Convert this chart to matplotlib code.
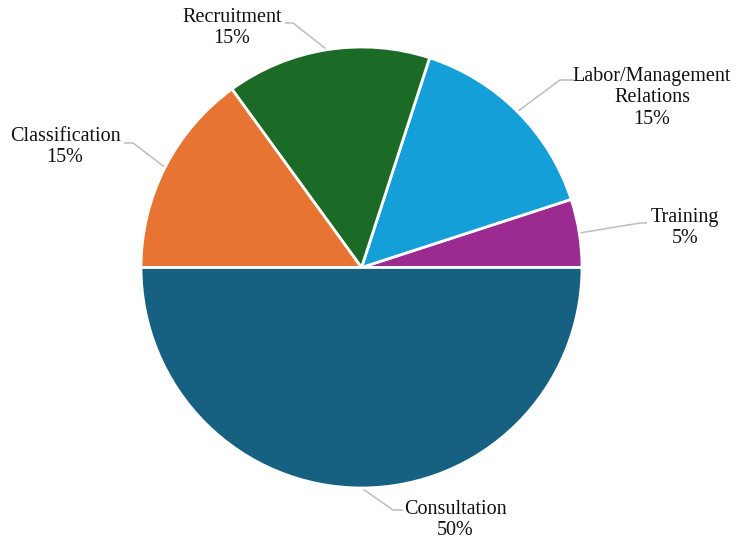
import numpy as np
import matplotlib
matplotlib.use("Agg")
import matplotlib.pyplot as plt

# Share of work by function
categories = ["Training", "Labor/Management\nRelations", "Recruitment", "Classification", "Consultation"]
shares = [5, 15, 15, 15, 50]
colors = ["#9C2B91", "#149FD9", "#1B6A26", "#E87433", "#166082"]

W, H = 736, 544
fig = plt.figure(figsize=(W / 100, H / 100), dpi=100)
ax = fig.add_axes([0, 0, 1, 1])

cx, cy, r = 361.5, H - 267.5, 220.5
wedges, _ = ax.pie(shares, colors=colors, startangle=0, counterclock=True,
                   center=(cx, cy), radius=r, frame=True,
                   wedgeprops=dict(edgecolor="white", linewidth=2))
ax.set_xlim(0, W)
ax.set_ylim(0, H)
ax.set_aspect("equal")
ax.axis("off")

# label layout in pixels from the top-left: elbow point, end of the
# horizontal run, and centre of the text block
layout = [
    ((640, 223), 647, (685, 228)),
    ((560, 80), 574, (652, 98)),
    ((293, 23), 285, (232, 28)),
    ((133, 143), 124, (65, 147)),
    ((393, 510), 403, (455, 520)),
]

font = dict(family="Liberation Serif", size=14.5, color="#111111")
for w, pct, name, ((bx, by), endx, (tx, ty)) in zip(wedges, shares, categories, layout):
    mid = np.deg2rad((w.theta1 + w.theta2) / 2)
    ex, ey = cx + r * np.cos(mid), cy + r * np.sin(mid)
    ax.plot([ex, bx, endx], [ey, H - by, H - by], color="#BDBDBD", lw=1.1,
            solid_capstyle="butt", zorder=0)
    ax.text(tx, H - ty, f"{name}\n{pct}%",
            ha="center", va="center", linespacing=1.17, **font)

fig.savefig("out.png", dpi=100, facecolor="white")
